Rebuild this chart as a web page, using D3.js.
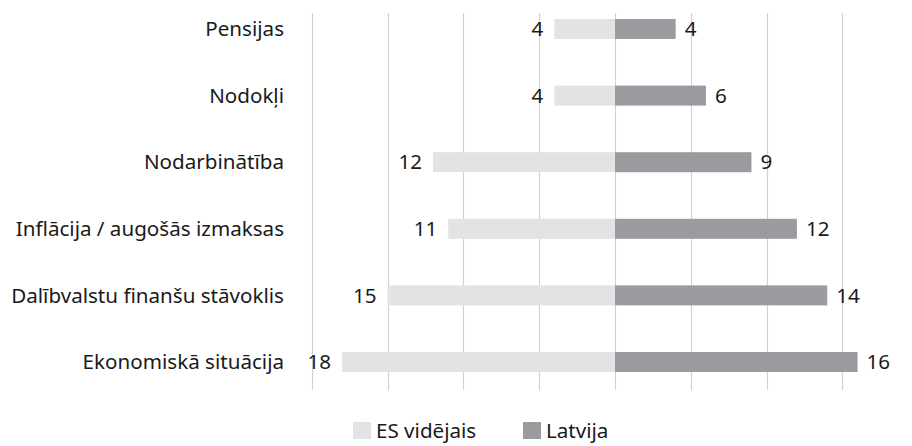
<!DOCTYPE html>
<html>
<head>
<meta charset="utf-8">
<script src="https://cdn.jsdelivr.net/npm/d3@7"></script>
<style>
  body { margin: 0; background: #fff; }
  text { font-family: "Noto Sans", Lato, sans-serif; fill: #1a1a1a; }
</style>
</head>
<body>
<div id="chart"></div>
<script>
// categories, top to bottom
let categories = ['Pensijas', 'Nodokļi', 'Nodarbinātība', 'Inflācija / augošās izmaksas',
  'Dalībvalstu finanšu stāvoklis', 'Ekonomiskā situācija'];
let esValues = [4, 4, 12, 11, 15, 18];
let lvValues = [4, 6, 9, 12, 14, 16];
let seriesNames = ['ES vidējais', 'Latvija'];
let gridTicks = [-20, -15, -10, -5, 0, 5, 10, 15];

let w = 912;
let h = 446;
let barH = 20;
let fontSize = 20.6;
let colors = ['#e2e3e4', '#9a9b9f'];

let svg = d3.select('#chart')
  .append('svg')
  .attr('width', w)
  .attr('height', h);

let x = d3.scaleLinear()
  .domain([-20, 15])
  .range([311.8, 842.4]);

let y = d3.scalePoint()
  .domain(categories)
  .range([29, 362]);

// grid lines
svg.append('g')
  .selectAll('line')
  .data(gridTicks)
  .enter()
  .append('line')
  .attr('x1', function(d) { return Math.round(x(d)) + 0.5; })
  .attr('x2', function(d) { return Math.round(x(d)) + 0.5; })
  .attr('y1', 13)
  .attr('y2', 390)
  .attr('stroke', '#d2d2d2')
  .attr('stroke-width', 1.2);

let rows = categories.map(function(c, i) {
  return { cat: c, es: esValues[i], lv: lvValues[i] };
});

// ES bars (left)
svg.append('g')
  .selectAll('rect')
  .data(rows)
  .enter()
  .append('rect')
  .attr('x', function(d) { return x(-d.es); })
  .attr('y', function(d) { return y(d.cat) - barH / 2; })
  .attr('width', function(d) { return x(0) - x(-d.es); })
  .attr('height', barH)
  .attr('fill', colors[0]);

// Latvija bars (right)
svg.append('g')
  .selectAll('rect')
  .data(rows)
  .enter()
  .append('rect')
  .attr('x', x(0))
  .attr('y', function(d) { return y(d.cat) - barH / 2; })
  .attr('width', function(d) { return x(d.lv) - x(0); })
  .attr('height', barH)
  .attr('fill', colors[1]);

// value labels
svg.append('g')
  .selectAll('text')
  .data(rows)
  .enter()
  .append('text')
  .attr('x', function(d) { return x(-d.es) - 11; })
  .attr('y', function(d) { return y(d.cat); })
  .attr('dy', '0.35em')
  .attr('text-anchor', 'end')
  .attr('font-size', fontSize)
  .text(function(d) { return d.es; });

svg.append('g')
  .selectAll('text')
  .data(rows)
  .enter()
  .append('text')
  .attr('x', function(d) { return x(d.lv) + 9; })
  .attr('y', function(d) { return y(d.cat); })
  .attr('dy', '0.35em')
  .attr('font-size', fontSize)
  .text(function(d) { return d.lv; });

// category labels
svg.append('g')
  .selectAll('text')
  .data(categories)
  .enter()
  .append('text')
  .attr('x', 284)
  .attr('y', function(d) { return y(d); })
  .attr('dy', '0.35em')
  .attr('text-anchor', 'end')
  .attr('font-size', fontSize)
  .text(function(d) { return d; });

// legend (kept a little up so the descenders are not cut)
let legendX = [353, 523];
let legend = svg.append('g')
  .selectAll('g')
  .data(seriesNames)
  .enter()
  .append('g')
  .attr('transform', function(d, i) { return 'translate(' + legendX[i] + ',422)'; });

legend.append('rect')
  .attr('width', 18)
  .attr('height', 17)
  .attr('fill', function(d, i) { return colors[i]; });

legend.append('text')
  .attr('x', 23)
  .attr('y', 8.5)
  .attr('dy', '0.35em')
  .attr('font-size', fontSize)
  .text(function(d) { return d; });
</script>
</body>
</html>
